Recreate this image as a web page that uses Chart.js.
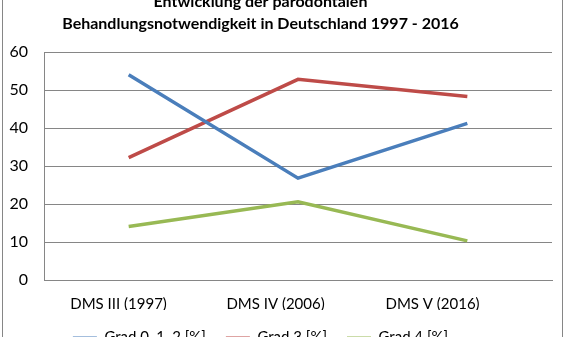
<!DOCTYPE html>
<html>
<head>
<meta charset="utf-8">
<script src="https://cdn.jsdelivr.net/npm/chart.js@4"></script>
<style>
  html, body { margin: 0; padding: 0; background: #fff; overflow: hidden; width: 566px; height: 337px; }
  #wrap { position: absolute; left: 2px; top: -20px; width: 559px; height: 374px; border: 1px solid #868686; background: #fff; }
  #chart { display: block; }
</style>
</head>
<body>
<div id="wrap"><canvas id="chart" width="559" height="374"></canvas></div>
<script>
// Chart data
var categories = ['DMS III (1997)', 'DMS IV (2006)', 'DMS V (2016)'];
var grad012 = [54.0, 26.8, 41.2];
var grad3 = [32.2, 52.8, 48.3];
var grad4 = [14.1, 20.6, 10.3];
var seriesNames = ['Grad 0, 1, 2 [%]', 'Grad 3 [%]', 'Grad 4 [%]'];
var titleLines = ['Entwicklung der parodontalen', 'Behandlungsnotwendigkeit in Deutschland 1997 - 2016'];

(function () {
    'use strict';

    var FONT = 'Lato, "Open Sans", sans-serif';
    var GRID = '#868686';

    // shift title and legend a bit to the left, like the cropped original
    var shiftBoxes = {
        id: 'shiftBoxes',
        afterLayout: function (chart) {
            if (chart.legend) { chart.legend.left -= 17; chart.legend.right -= 17; }
            if (chart.titleBlock) { chart.titleBlock.left -= 17; chart.titleBlock.right -= 17; }
        }
    };

    function line(label, data, color) {
        return {
            label: label,
            data: data,
            borderColor: color,
            backgroundColor: color,
            borderWidth: 3.5,
            pointRadius: 0,
            tension: 0,
            fill: false
        };
    }

    new Chart(document.getElementById('chart'), {
        type: 'line',
        data: {
            labels: categories,
            datasets: [
                line(seriesNames[0], grad012, '#4A7EBB'),
                line(seriesNames[1], grad3, '#BE4B48'),
                line(seriesNames[2], grad4, '#98B954')
            ]
        },
        plugins: [shiftBoxes],
        options: {
            responsive: false,
            animation: false,
            layout: { padding: { left: 0, right: 10, top: 0, bottom: 0 } },
            plugins: {
                title: {
                    display: true,
                    text: titleLines,
                    color: '#000',
                    font: { family: FONT, size: 16, weight: 'bold', lineHeight: 1.375 },
                    padding: { top: 10, bottom: 17 }
                },
                legend: {
                    position: 'bottom',
                    labels: {
                        color: '#000',
                        font: { family: FONT, size: 15 },
                        boxWidth: 24,
                        boxHeight: 0,
                        padding: 20,
                        generateLabels: function (chart) {
                            var items = Chart.defaults.plugins.legend.labels.generateLabels(chart);
                            items.forEach(function (it) { it.lineWidth = 2; });
                            return items;
                        }
                    }
                },
                tooltip: { enabled: false }
            },
            scales: {
                // category axis carrying the data points (hidden)
                x: {
                    offset: true,
                    display: false
                },
                // visible axis for the category labels, spaced like the original
                xl: {
                    type: 'linear',
                    position: 'bottom',
                    min: -0.475,
                    max: 2.761,
                    afterBuildTicks: function (s) {
                        s.ticks = categories.map(function (c, i) { return { value: i }; });
                    },
                    grid: { display: false, drawTicks: false },
                    border: { display: true, color: GRID, width: 1 },
                    ticks: {
                        color: '#000',
                        font: { family: FONT, size: 15 },
                        padding: 15,
                        maxRotation: 0,
                        autoSkip: false,
                        callback: function (v) { return categories[v]; }
                    },
                    afterFit: function (s) { s.height = 30; }
                },
                y: {
                    min: 0,
                    max: 60,
                    ticks: {
                        stepSize: 10,
                        color: '#000',
                        font: { family: FONT, size: 16 },
                        padding: 16
                    },
                    grid: { color: GRID, lineWidth: 1, drawTicks: false },
                    border: { display: true, color: GRID, width: 1 },
                    afterFit: function (s) { s.width = 41; }
                }
            }
        }
    });
})();
</script>
</body>
</html>
